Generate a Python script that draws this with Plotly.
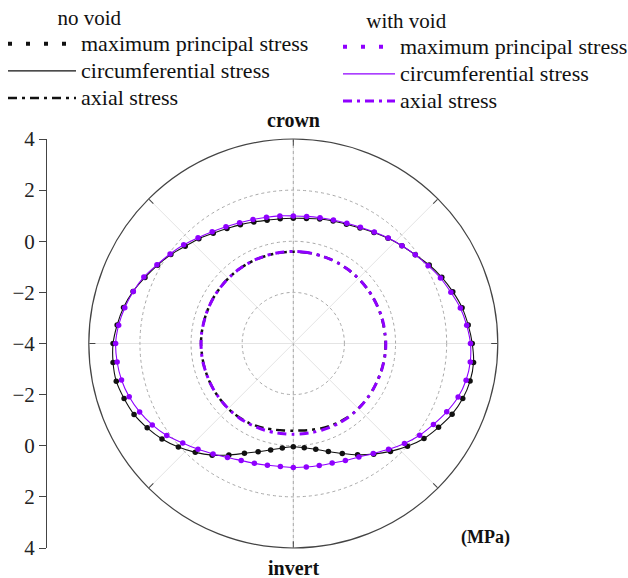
import plotly.graph_objects as go

# Positions around the lining, degrees clockwise from the crown
theta_deg = list(range(0, 360, 6))

# Stresses without a void behind the lining (MPa)
circ_no_void = [
    0.90, 0.92, 0.98, 1.04, 1.11, 1.22, 1.37, 1.54, 1.72, 1.90,
    2.14, 2.36, 2.56, 2.75, 2.88, 3.00, 3.09, 3.07, 2.97, 2.80,
    2.56, 2.32, 2.01, 1.68, 1.35, 1.03, 0.71, 0.44, 0.23, 0.10,
    0.04, 0.11, 0.26, 0.45, 0.70, 1.04, 1.40, 1.73, 2.05, 2.35,
    2.60, 2.82, 2.96, 3.08, 3.09, 3.05, 2.93, 2.79, 2.59, 2.35,
    2.13, 1.92, 1.69, 1.52, 1.33, 1.19, 1.09, 1.00, 0.93, 0.91,
]
maxp_no_void = [
    0.90, 0.92, 0.98, 1.04, 1.11, 1.22, 1.37, 1.54, 1.72, 1.90,
    2.14, 2.36, 2.56, 2.75, 2.88, 3.00, 3.09, 3.07, 2.97, 2.80,
    2.56, 2.32, 2.01, 1.68, 1.35, 1.03, 0.71, 0.44, 0.23, 0.10,
    0.04, 0.11, 0.26, 0.45, 0.70, 1.04, 1.40, 1.73, 2.05, 2.35,
    2.60, 2.82, 2.96, 3.08, 3.09, 3.05, 2.93, 2.79, 2.59, 2.35,
    2.13, 1.92, 1.69, 1.52, 1.33, 1.19, 1.09, 1.00, 0.93, 0.91,
]
axial_no_void = [
    -0.41, -0.41, -0.40, -0.40, -0.40, -0.40, -0.40, -0.40, -0.40, -0.40,
    -0.40, -0.40, -0.40, -0.40, -0.40, -0.39, -0.39, -0.39, -0.40, -0.40,
    -0.40, -0.40, -0.40, -0.40, -0.42, -0.44, -0.47, -0.51, -0.55, -0.58,
    -0.59, -0.58, -0.55, -0.51, -0.47, -0.44, -0.42, -0.40, -0.40, -0.40,
    -0.40, -0.40, -0.40, -0.40, -0.40, -0.39, -0.39, -0.40, -0.40, -0.40,
    -0.40, -0.40, -0.40, -0.40, -0.40, -0.40, -0.40, -0.41, -0.41, -0.41,
]

# Stresses with a void behind the lining (MPa)
circ_with_void = [
    0.99, 1.00, 1.03, 1.08, 1.15, 1.25, 1.39, 1.55, 1.72, 1.90,
    2.09, 2.30, 2.48, 2.68, 2.82, 2.93, 2.96, 2.91, 2.78, 2.57,
    2.33, 2.11, 1.85, 1.57, 1.32, 1.13, 1.01, 0.92, 0.88, 0.86,
    0.85, 0.84, 0.87, 0.93, 1.01, 1.15, 1.34, 1.57, 1.82, 2.12,
    2.37, 2.58, 2.75, 2.87, 2.93, 2.95, 2.87, 2.74, 2.58, 2.40,
    2.16, 1.96, 1.77, 1.57, 1.40, 1.27, 1.17, 1.10, 1.05, 1.02,
]
maxp_with_void = [
    0.99, 1.00, 1.03, 1.08, 1.15, 1.25, 1.39, 1.55, 1.72, 1.90,
    2.09, 2.30, 2.48, 2.68, 2.82, 2.93, 2.96, 2.91, 2.78, 2.57,
    2.33, 2.11, 1.85, 1.57, 1.32, 1.13, 1.01, 0.92, 0.88, 0.86,
    0.85, 0.84, 0.87, 0.93, 1.01, 1.15, 1.34, 1.57, 1.82, 2.12,
    2.37, 2.58, 2.75, 2.87, 2.93, 2.95, 2.87, 2.74, 2.58, 2.40,
    2.16, 1.96, 1.77, 1.57, 1.40, 1.27, 1.17, 1.10, 1.05, 1.02,
]
axial_with_void = [
    -0.40, -0.40, -0.40, -0.40, -0.40, -0.40, -0.40, -0.40, -0.40, -0.40,
    -0.40, -0.40, -0.39, -0.39, -0.39, -0.38, -0.38, -0.39, -0.39, -0.40,
    -0.40, -0.40, -0.40, -0.40, -0.40, -0.41, -0.42, -0.43, -0.44, -0.45,
    -0.45, -0.45, -0.44, -0.43, -0.42, -0.41, -0.40, -0.40, -0.40, -0.40,
    -0.40, -0.40, -0.40, -0.39, -0.39, -0.39, -0.39, -0.40, -0.40, -0.40,
    -0.40, -0.40, -0.40, -0.40, -0.40, -0.40, -0.40, -0.40, -0.40, -0.40,
]

# Stress scale shown along the crown-invert diameter
radial_ticks = [4, 2, 0, -2, -4]
R_MIN, R_MAX = -4, 4
ring_ticks = [-2, 0, 2]

SERIF = "Liberation Serif"
BLACK = "#111111"
PURPLE = "#8f00ff"
DASHDOT = "9px,5px,3px,5px"
NBSP = "\u00a0"

W, H = 628, 578
# Polar disc placement in pixels
CX, CY, RAD = 293.3, 343.5, 204.5
px0, px1 = (CX - RAD) / W, (CX + RAD) / W
py0, py1 = (H - (CY + RAD)) / H, (H - (CY - RAD)) / H


def closed(vals):
    return list(vals) + [vals[0]]


theta_closed = theta_deg + [theta_deg[0] + 360]


def item(text):
    return f'<span style="font-size:22px">{text}</span>'


fig = go.Figure()

# crown-invert reference diameter
fig.add_trace(go.Scatterpolar(
    r=[R_MAX, R_MIN, R_MAX], theta=[0, 0, 180], mode="lines",
    line=dict(color="#a8a8a8", width=1, dash="3px,3px"),
    showlegend=False, hoverinfo="skip",
))


def add_group(legend_name, color, circ, maxp, axial, axial_width):
    # legend samples
    fig.add_trace(go.Scatterpolar(
        r=[None], theta=[None], mode="lines", name=item("maximum principal stress"),
        line=dict(color=color, width=4, dash="4px,14px"), legend=legend_name,
    ))
    fig.add_trace(go.Scatterpolar(
        r=closed(circ), theta=theta_closed, mode="lines",
        name=item("circumferential stress"),
        line=dict(color=color, width=1.1, shape="spline", smoothing=0.8),
        legend=legend_name,
    ))
    fig.add_trace(go.Scatterpolar(
        r=closed(axial), theta=theta_closed, mode="lines", name=item("axial stress"),
        line=dict(color=color, width=axial_width, dash=DASHDOT, shape="spline", smoothing=0.8),
        legend=legend_name,
    ))
    fig.add_trace(go.Scatterpolar(
        r=maxp, theta=theta_deg, mode="markers",
        marker=dict(color=color, size=5.5),
        showlegend=False, legend=legend_name,
    ))


add_group("legend", BLACK, circ_no_void, maxp_no_void, axial_no_void, 2.5)
add_group("legend2", PURPLE, circ_with_void, maxp_with_void, axial_with_void, 3)

# Carrier for the vertical stress scale on the left
fig.add_trace(go.Scatter(
    x=[0.5], y=[0], mode="markers", marker=dict(opacity=0),
    showlegend=False, hoverinfo="skip", xaxis="x", yaxis="y",
))

# Left scale: top half runs crown -> centre, bottom half centre -> invert
scale_vals, scale_text = [], []
for v in radial_ticks:
    scale_vals.append(v - R_MIN)
    scale_text.append(str(v).replace("-", "\u2212"))
for v in reversed(radial_ticks[:-1]):
    scale_vals.append(-(v - R_MIN))
    scale_text.append(str(v).replace("-", "\u2212"))

span = R_MAX - R_MIN


def label(text, x_px, y_px, size):
    return dict(text=f"<b>{text}</b>", x=x_px / W, y=(H - y_px) / H,
                xref="paper", yref="paper", xanchor="center", yanchor="middle",
                showarrow=False, font=dict(family=SERIF, size=size, color="#111"))


fig.update_layout(
    width=W, height=H, autosize=False,
    margin=dict(l=0, r=0, t=0, b=0, autoexpand=False),
    paper_bgcolor="white", plot_bgcolor="white",
    polar=dict(
        domain=dict(x=[px0, px1], y=[py0, py1]),
        bgcolor="white",
        radialaxis=dict(
            range=[R_MIN, R_MAX], tickvals=ring_ticks, showticklabels=False,
            ticks="", showline=False, gridcolor="#a8a8a8", griddash="3px,3px",
            gridwidth=1, angle=90,
        ),
        angularaxis=dict(
            rotation=90, direction="clockwise", tickvals=list(range(0, 360, 45)),
            showticklabels=False, ticks="inside", ticklen=6, tickcolor="#444",
            linecolor="#444", linewidth=1.2, gridcolor="#e4e4e4", gridwidth=1,
        ),
    ),
    xaxis=dict(domain=[47 / W, px0 - 0.01], range=[0, 1], visible=False, fixedrange=True),
    yaxis=dict(
        domain=[py0, py1], range=[-span, span], tickvals=scale_vals, ticktext=scale_text,
        showline=True, linecolor="#444", linewidth=1, ticks="outside", ticklen=7,
        tickcolor="#444", showgrid=False, zeroline=False, fixedrange=True,
        automargin=False,
        tickfont=dict(family=SERIF, size=21, color="#222"),
    ),
    legend=dict(
        x=3 / W, y=1.0 + 2 / H, xanchor="left", yanchor="top",
        font=dict(family=SERIF, size=18.5, color="#111"),
        title=dict(text=NBSP * 10 + "no void", font=dict(family=SERIF, size=21, color="#111")),
        itemwidth=68, bgcolor="rgba(0,0,0,0)", borderwidth=0,
        traceorder="normal", tracegroupgap=0,
    ),
    legend2=dict(
        x=338 / W, y=1.0 - 1 / H, xanchor="left", yanchor="top",
        font=dict(family=SERIF, size=18.5, color="#111"),
        title=dict(text=NBSP * 5 + "with void", font=dict(family=SERIF, size=21, color="#111")),
        itemwidth=52, bgcolor="rgba(0,0,0,0)", borderwidth=0,
        traceorder="normal", tracegroupgap=0,
    ),
    annotations=[
        label("crown", CX, 120, 20),
        label("invert", CX, 568, 20),
        label("(MPa)", 485, 537, 18),
    ],
)

fig.write_html("out.html")
